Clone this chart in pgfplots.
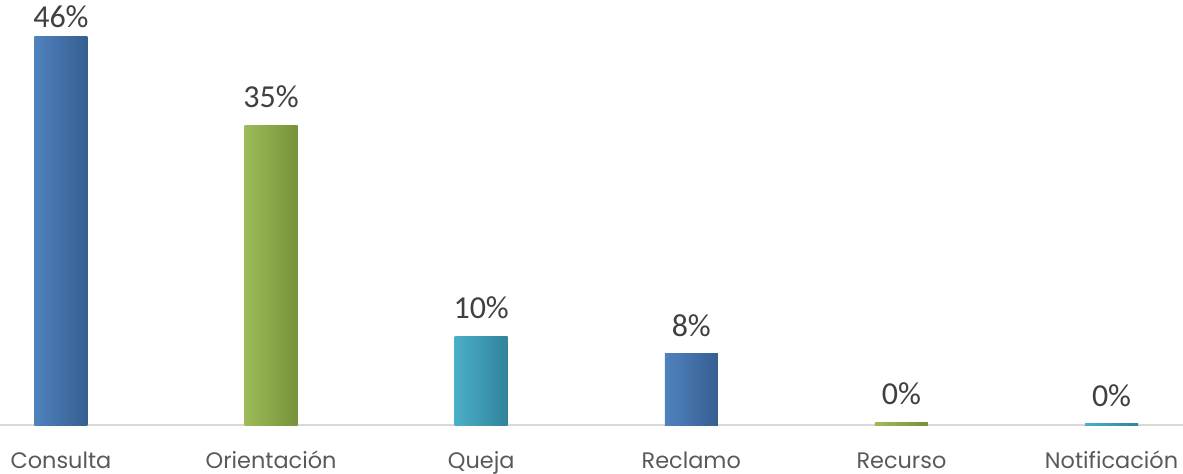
\documentclass[border=0pt]{standalone}
\usepackage{pgfplots}
\pgfplotsset{compat=1.18}
\usepackage{fontspec}
\setmainfont{Carlito}
\newfontfamily\catfont{Poppins}
\usetikzlibrary{calc}

\definecolor{blueL}{HTML}{5082BF}
\definecolor{blueD}{HTML}{365E90}
\definecolor{greenL}{HTML}{9DBB59}
\definecolor{greenD}{HTML}{76923A}
\definecolor{tealL}{HTML}{4BAFC8}
\definecolor{tealD}{HTML}{30839A}
\definecolor{labtext}{HTML}{404040}
\definecolor{cattext}{HTML}{595959}
\definecolor{baseline}{HTML}{D9D9D9}

\begin{document}
\begin{tikzpicture}
\begin{axis}[
  scale only axis,
  width=591.5pt, height=212.5pt,
  xmin=-0.29, xmax=5.34,
  ymin=0, ymax=50.26,
  axis y line=none,
  axis x line=bottom,
  x axis line style={draw=baseline, line width=1pt, -},
  xtick={0,1,2,3,4,5},
  xticklabels={Consulta,Orientación,Queja,Reclamo,Recurso,Notificación},
  xticklabel style={font=\catfont\fontsize{11.2}{13}\selectfont, text=cattext,
    anchor=base, yshift=-21.5pt},
  major tick length=0pt,
  ytick=\empty,
  ybar, bar width=26.5pt, bar shift=0pt,
  clip=false,
  point meta=explicit symbolic,
  nodes near coords,
  nodes near coords style={font=\fontsize{16}{19}\selectfont, text=labtext, yshift=5pt},
]
\addplot[draw=none, left color=blueL, right color=blueD,
  nodes near coords style={yshift=-4.5pt}] coordinates {(0,46) [46\%]};
\addplot[draw=none, left color=greenL, right color=greenD] coordinates {(1,35.47) [35\%]};
\addplot[draw=none, left color=tealL, right color=tealD] coordinates {(2,10.52) [10\%]};
\addplot[draw=none, left color=blueL, right color=blueD] coordinates {(3,8.4) [8\%]};
\addplot[draw=none, left color=greenL, right color=greenD] coordinates {(4,0.35) [0\%]};
\addplot[draw=none, left color=tealL, right color=tealD] coordinates {(5,0.18) [0\%]};
\coordinate (bl) at (rel axis cs:0,0);
\coordinate (tr) at (rel axis cs:1,1);
\end{axis}
\pgfresetboundingbox
\path[use as bounding box] ($(bl)+(0,-24pt)$) rectangle (tr);
\end{tikzpicture}
\end{document}
